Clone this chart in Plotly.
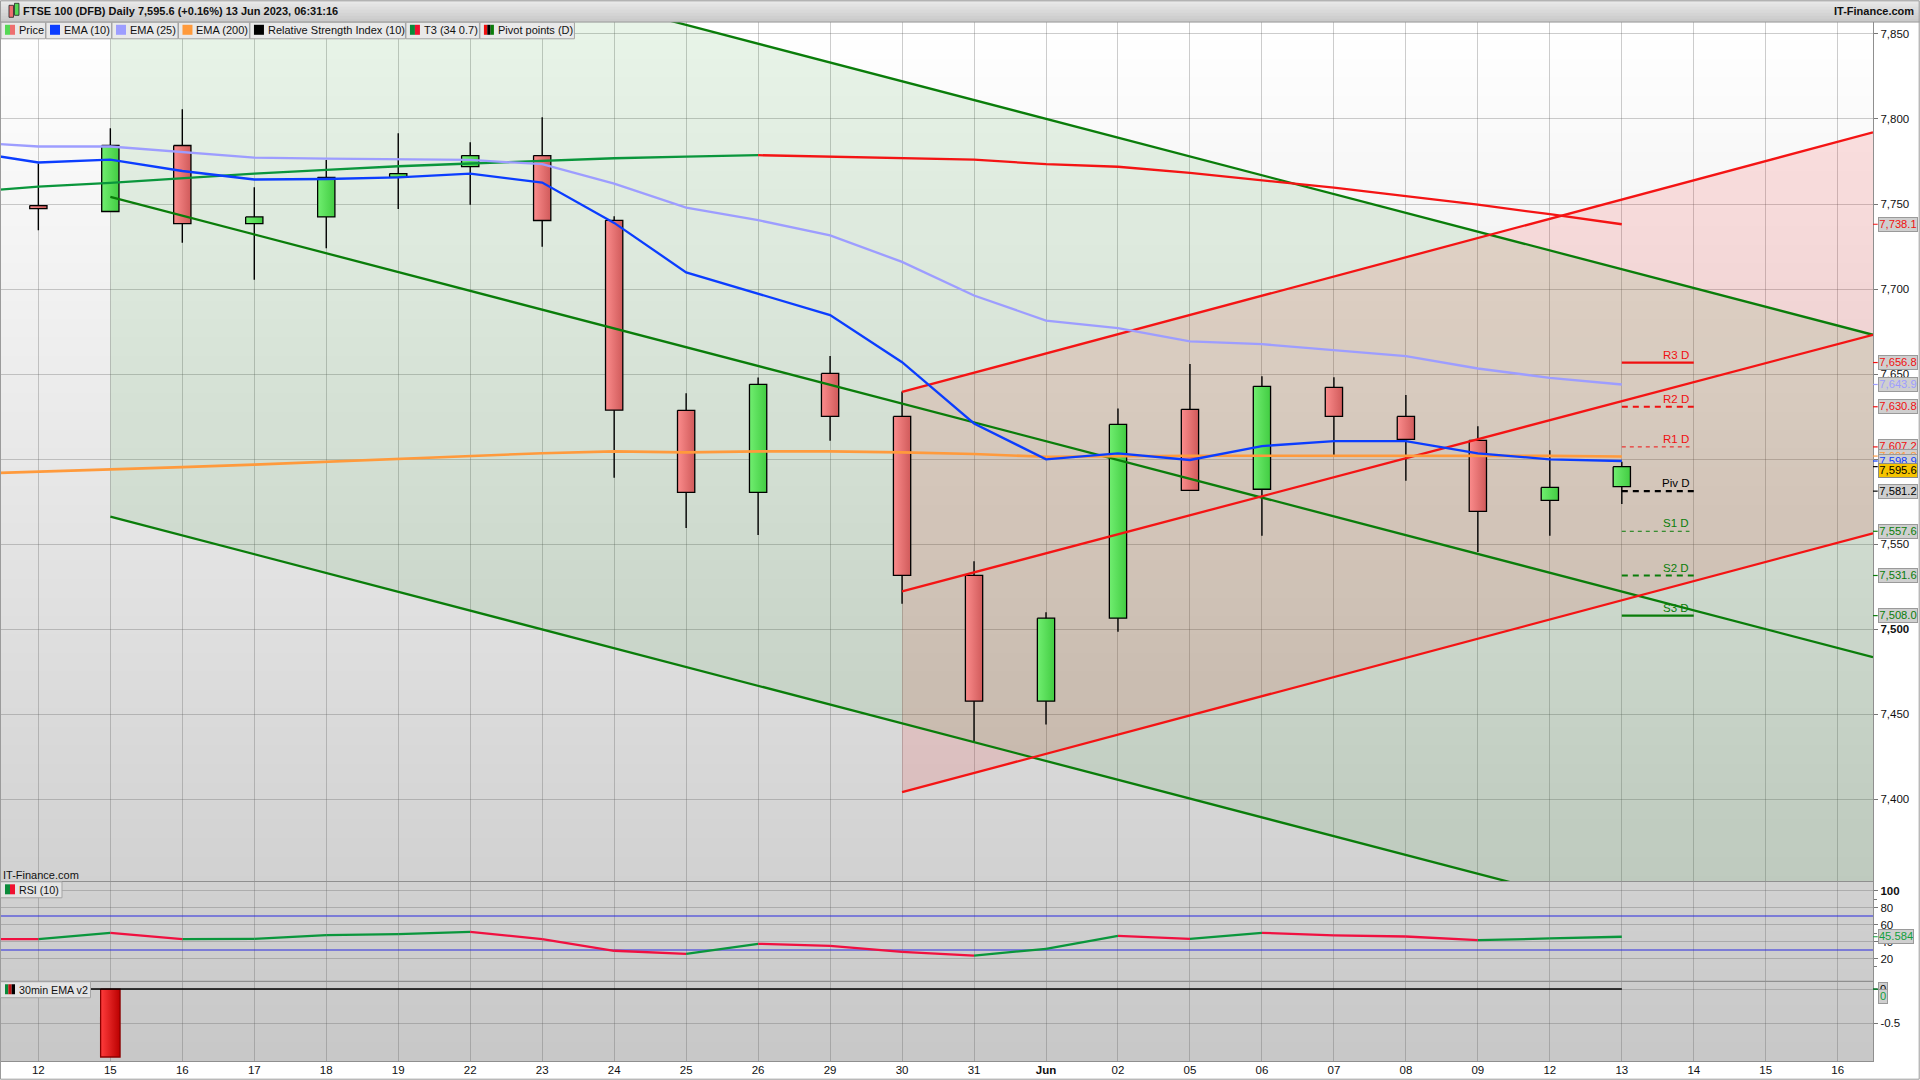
import plotly.graph_objects as go

# session labels on the x axis, one per slot
date_labels = ["12", "15", "16", "17", "18", "19", "22", "23", "24", "25", "26", "29", "30", "31",
               "<b>Jun</b>", "02", "05", "06", "07", "08", "09", "12", "13", "14", "15", "16"]

# daily candles
opens = [7749.1, 7745.6, 7784.4, 7738.5, 7742.4, 7765.6, 7772.0, 7778.5, 7740.4, 7628.7, 7580.5, 7650.4,
         7625.1, 7531.7, 7457.7, 7506.5, 7629.3, 7582.3, 7642.2, 7625.1, 7611.0, 7575.8, 7583.8]
closes = [7747.3, 7784.4, 7738.5, 7742.4, 7765.6, 7767.9, 7778.5, 7740.3, 7628.8, 7580.5, 7644.0, 7625.1,
          7531.7, 7457.7, 7506.5, 7620.4, 7581.7, 7642.8, 7625.1, 7611.6, 7569.3, 7583.4, 7595.6]
highs = [7773.8, 7794.5, 7805.7, 7759.9, 7775.9, 7791.6, 7786.3, 7801.0, 7742.8, 7638.8, 7648.0, 7660.6,
         7639.8, 7540.0, 7510.0, 7629.8, 7655.9, 7648.8, 7648.2, 7637.7, 7619.4, 7605.3, 7598.5]
lows = [7734.6, 7745.6, 7727.2, 7705.4, 7724.0, 7747.1, 7749.5, 7724.8, 7589.1, 7559.5, 7555.4, 7610.8,
        7515.0, 7433.4, 7444.0, 7498.6, 7581.7, 7555.0, 7601.4, 7587.3, 7545.4, 7555.0, 7573.6]

# indicator lines, first value is the session before the left edge
line_slots = list(range(-1, 23))
ema10 = [7781.0, 7774.4, 7776.1, 7769.4, 7764.4, 7764.7, 7765.6, 7767.9, 7762.6, 7738.9, 7709.8, 7697.4,
         7684.7, 7657.0, 7621.0, 7599.9, 7603.4, 7599.5, 7607.7, 7610.6, 7610.6, 7603.4, 7599.9, 7598.9]
ema25 = [7786.5, 7783.8, 7783.8, 7780.4, 7777.3, 7776.7, 7776.1, 7775.9, 7773.4, 7762.0, 7747.9, 7740.5,
         7731.5, 7716.0, 7696.2, 7681.5, 7677.0, 7669.2, 7667.6, 7664.1, 7660.6, 7653.3, 7647.8, 7643.9]
ema200 = [7591.3, 7592.5, 7593.8, 7595.3, 7596.8, 7598.5, 7600.3, 7602.0, 7603.5, 7604.6, 7604.0, 7604.6,
          7604.6, 7604.0, 7603.0, 7601.4, 7601.8, 7602.0, 7602.0, 7602.0, 7602.0, 7602.2, 7601.9, 7601.6]
t3_up_slots = list(range(-1, 11))
t3_up = [7756.9, 7760.2, 7762.4, 7765.1, 7767.9, 7770.1, 7772.2, 7773.8, 7775.3, 7776.9, 7777.9, 7778.7]
t3_down_slots = list(range(10, 23))
t3_down = [7778.7, 7777.9, 7777.3, 7776.1, 7773.4, 7771.9, 7768.3, 7764.0, 7759.6, 7754.6, 7749.6, 7744.0, 7738.1]

rsi = [43.0, 42.8, 50.2, 42.8, 43.0, 47.5, 48.7, 51.4, 42.8, 29.1, 25.5, 37.3,
       34.9, 27.9, 23.5, 31.4, 46.7, 43.2, 50.2, 47.3, 45.9, 41.5, 43.6, 45.584]
osc = [0, 0, -1.0, 0, 0, 0, 0, 0, 0, 0, 0, 0, 0, 0, 0, 0, 0, 0, 0, 0, 0, 0, 0, 0]

# regression channels: slots at both ends, then upper / middle / lower prices
green_channel_slots = [1, 25.49]
green_upper = [7943.7, 7673.1]
green_middle = [7754.2, 7483.6]
green_lower = [7566.2, 7295.6]
red_channel_slots = [12, 25.49]
red_upper = [7639.5, 7792.1]
red_middle = [7522.3, 7673.1]
red_lower = [7404.2, 7556.4]

# daily pivots
pivot_names = ["R3 D", "R2 D", "R1 D", "Piv D", "S1 D", "S2 D", "S3 D"]
pivot_values = [7656.8, 7630.8, 7607.2, 7581.2, 7557.6, 7531.6, 7508.0]
pivot_ends = [23, 23, 22.94, 23, 22.94, 23, 23]
pivot_colors = ["#f01010", "#f01010", "#f01010", "#000000", "#0a7d0a", "#0a7d0a", "#0a7d0a"]
pivot_dash = ["solid", "6px,5px", "4px,4px", "6px,5px", "4px,4px", "6px,5px", "solid"]
pivot_width = [2.2, 2.2, 1, 2.2, 1, 2.2, 2.2]

label_values = [7738.1, 7656.8, 7643.9, 7630.8, 7607.2, 7601.8, 7598.9, 7595.6, 7581.2, 7557.6, 7531.6, 7508.0]
label_colors = ["#f01010", "#f01010", "#9d9dff", "#f01010", "#f01010", "#ff9a3c", "#1040ff", "#000000",
                "#000000", "#0a7d0a", "#0a7d0a", "#0a7d0a"]

price_ticks = [7400, 7450, 7500, 7550, 7600, 7650, 7700, 7750, 7800, 7850]
price_tick_text = ["7,400", "7,450", "<b>7,500</b>", "7,550", "7,600", "7,650", "7,700", "7,750", "7,800", "7,850"]
rsi_ticks = [100, 80, 60, 40, 20]
rsi_tick_text = ["<b>100</b>", "80", "60", "40", "20"]

legend_names = ["Price", "EMA (10)", "EMA (25)", "EMA (200)", "Relative Strength Index (10)", "T3 (34 0.7)", "Pivot points (D)"]
legend_colors = [["#55d855", "#ee6f6f"], ["#0b3dff"], ["#9d9dff"], ["#ff9a3c"], ["#000000"],
                 ["#0a8a3a", "#f01030"], ["#f01010", "#000000", "#0a7d0a"]]

FONT = "Liberation Sans"
GREEN_LINE = "#0a7d0a"
RED_LINE = "#f41414"
PLOT_W = 1873.3
PLOT_TOP = 21.7
PLOT_BOTTOM = 1061.3
PLOT_H = PLOT_BOTTOM - PLOT_TOP
BODY_HALF = 0.12
LINE_W = 2.3


def px(x):
    return x / PLOT_W


def py(y):
    return (PLOT_BOTTOM - y) / PLOT_H


def paper_rect(x0, y0, x1, y1, fill, line=None, layer="above", width=1):
    return dict(type="rect", xref="paper", yref="paper", x0=px(x0), x1=px(x1), y0=py(y0), y1=py(y1),
                fillcolor=fill, layer=layer, line=dict(color=line or "rgba(0,0,0,0)", width=width if line else 0))


def text_note(x, y, text, size=11, color="#111111", anchor="left"):
    return dict(xref="paper", yref="paper", x=px(x), y=py(y), text=text, showarrow=False, xanchor=anchor,
                yanchor="middle", font=dict(family=FONT, size=size, color=color))


fig = go.Figure()


def add_line(slots, values, color, axis="y", width=LINE_W, dash="solid"):
    fig.add_trace(go.Scatter(x=slots, y=values, mode="lines", yaxis=axis, hoverinfo="skip",
                             line=dict(color=color, width=width, dash=dash)))


def add_box(slot, half, top, bottom, colors, edge, axis="y"):
    fig.add_trace(go.Scatter(x=[slot - half, slot + half, slot + half, slot - half, slot - half],
                             y=[top, top, bottom, bottom, top], mode="lines", fill="toself", yaxis=axis,
                             hoverinfo="skip", line=dict(color=edge, width=1.3),
                             fillgradient=dict(type="horizontal", colorscale=[[0, colors[0]], [1, colors[1]]])))


# channel fills, red goes under green
for slots, up, low, tint in [(red_channel_slots, red_upper, red_lower, "rgba(255,0,0,0.11)"),
                             (green_channel_slots, green_upper, green_lower, "rgba(0,128,0,0.09)")]:
    fig.add_trace(go.Scatter(x=[slots[0], slots[1], slots[1], slots[0]], y=[up[0], up[1], low[1], low[0]],
                             mode="none", fill="toself", fillcolor=tint, hoverinfo="skip"))

# wicks first so bodies cover them
wick_x, wick_y = [], []
for i in range(len(opens)):
    wick_x += [i, i, None]
    wick_y += [highs[i], lows[i], None]
add_line(wick_x, wick_y, "#000000", width=1.4)

for i in range(len(opens)):
    rising = closes[i] >= opens[i]
    shades = ("#70ee70", "#42cc42") if rising else ("#fb8c8c", "#d05a5a")
    add_box(i, BODY_HALF, max(opens[i], closes[i]), min(opens[i], closes[i]), shades, "#000000")

for vals in (green_upper, green_middle, green_lower):
    add_line(green_channel_slots, vals, GREEN_LINE)
for vals in (red_upper, red_middle, red_lower):
    add_line(red_channel_slots, vals, RED_LINE)

add_line(t3_up_slots, t3_up, "#0a963c")
add_line(t3_down_slots, t3_down, RED_LINE)
add_line(line_slots, ema200, "#ff9a3c", width=2.6)
add_line(line_slots, ema25, "#9d9dff")
add_line(line_slots, ema10, "#0b3dff")

for i, name in enumerate(pivot_names):
    add_line([22, pivot_ends[i]], [pivot_values[i], pivot_values[i]], pivot_colors[i], width=pivot_width[i], dash=pivot_dash[i])

# RSI, coloured by direction
add_line([-1, 26], [70, 70], "#2a2ae0", axis="y2", width=1.1)
add_line([-1, 26], [30, 30], "#2a2ae0", axis="y2", width=1.1)
rise_x, rise_y, fall_x, fall_y = [], [], [], []
for i in range(1, len(rsi)):
    pair_x, pair_y = [line_slots[i - 1], line_slots[i], None], [rsi[i - 1], rsi[i], None]
    if rsi[i] >= rsi[i - 1]:
        rise_x += pair_x
        rise_y += pair_y
    else:
        fall_x += pair_x
        fall_y += pair_y
add_line(rise_x, rise_y, "#0a963c", axis="y2")
add_line(fall_x, fall_y, "#f01040", axis="y2")

# 30 min EMA histogram
for slot, v in zip(line_slots, osc):
    if v != 0:
        add_box(slot, 0.135, 0, v, ("#ff3c3c", "#bb0000"), "#8a0000", axis="y3")
add_line(line_slots, [0] * len(line_slots), "#000000", axis="y3", width=1.5)

# page background, one long vertical fade behind all three panels
shapes = []
bands = 56
for b in range(bands):
    shade = round(255 - 55 * b / (bands - 1))
    y0 = PLOT_TOP + PLOT_H * b / bands
    y1 = PLOT_TOP + PLOT_H * (b + 1) / bands + 1
    shapes.append(paper_rect(0, y0, PLOT_W, min(y1, PLOT_BOTTOM), f"rgb({shade},{shade},{shade})", layer="below"))

for k in range(7):
    shade = 232 - k * 5
    shapes.append(paper_rect(0, k * 3, 1920, (k + 1) * 3 + 0.5, f"rgb({shade},{shade},{shade})"))

shapes.append(dict(type="line", xref="paper", yref="paper", x0=0, x1=px(1920), y0=py(21.7), y1=py(21.7),
                   line=dict(color="#8f8f8f", width=1.2)))
for sep in (881.7, 981.7):
    shapes.append(dict(type="line", xref="paper", yref="paper", x0=0, x1=1, y0=py(sep), y1=py(sep),
                       line=dict(color="#8f8f8f", width=1.2)))
shapes.append(paper_rect(0.5, 0.5, 1919.5, 1079.5, "rgba(0,0,0,0)", line="#9a9a9a", width=1))

annotations = []

# header
shapes.append(paper_rect(9, 5, 13.5, 17, "#ee6f6f", line="#222222", width=0.8))
shapes.append(paper_rect(14.5, 3, 19, 15, "#55d855", line="#222222", width=0.8))
annotations.append(text_note(21, 11, "<b>FTSE 100 (DFB) Daily 7,595.6 (+0.16%) 13 Jun 2023, 06:31:16</b>", size=11))
annotations.append(text_note(1916, 11, "<b>IT-Finance.com</b>", size=11, anchor="right"))

# legend strip
edges = [1, 46, 112, 178.5, 250, 406, 480, 575]
for i, name in enumerate(legend_names):
    x0, x1 = edges[i], edges[i + 1] - 0.5
    shapes.append(paper_rect(x0, 22, x1, 38.5, "#e9e9e9", line="#a4a4a4", width=1))
    tones = legend_colors[i]
    step = 10 / len(tones)
    for j, tone in enumerate(tones):
        shapes.append(paper_rect(x0 + 4 + j * step, 24.5, x0 + 4 + (j + 1) * step, 34.5, tone))
    annotations.append(text_note(x0 + 16, 30, name, size=11))

# panel tags
annotations.append(text_note(1, 875.5, "IT-Finance.com", size=11))
for x1, y0, name, tones in [(62, 882, "RSI (10)", ["#0a8a3a", "#f01030"]),
                            (90.5, 982, "30min EMA v2", ["#0a8a3a", "#c01010", "#000000"])]:
    shapes.append(paper_rect(0.5, y0, x1, y0 + 16, "#e4e4e4", line="#a4a4a4", width=1))
    step = 10 / len(tones)
    for j, tone in enumerate(tones):
        shapes.append(paper_rect(5 + j * step, y0 + 2.5, 5 + (j + 1) * step, y0 + 12.5, tone))
    annotations.append(text_note(17, y0 + 8, name, size=10.7))

# pivot names above their lines
for i, name in enumerate(pivot_names):
    annotations.append(dict(xref="x", yref="y", x=22.96, y=pivot_values[i], text=name, showarrow=False, xanchor="right",
                            yanchor="bottom", yshift=0, font=dict(family=FONT, size=11.5, color=pivot_colors[i])))


def value_label(value, axis, text, color, width=38, yshift=0, bg="#cfcfcf", edge="#9a9a9a", size=11.2):
    shapes.append(dict(type="line", xref="paper", yref=axis, x0=1, x1=px(1878), y0=value, y1=value,
                       line=dict(color=color, width=1.2)))
    annotations.append(dict(xref="paper", yref=axis, x=px(1878), y=value, xanchor="left", yanchor="middle",
                            text=text, showarrow=False, yshift=yshift, width=width, height=12.5, align="center",
                            bgcolor=bg, bordercolor=edge, borderwidth=1, borderpad=0,
                            font=dict(family=FONT, size=size, color=color)))


for value, color in zip(label_values, label_colors):
    if value == closes[-1]:
        value_label(value, "y", f"{value:,.1f}", color, yshift=-4, bg="#f6c400", edge="#8a8a8a")
    else:
        value_label(value, "y", f"{value:,.1f}", color)
value_label(rsi[-1], "y2", f"{rsi[-1]:.3f}", "#12a03c", width=34)
value_label(osc[-1], "y3", "0", "#000000", width=8)
value_label(osc[-1], "y3", "0", "#12a03c", width=8, yshift=-7.5)

axis_font = dict(family=FONT, size=11.5, color="#111111")
grid = "rgba(90,90,90,0.3)"
common = dict(side="right", anchor="x", showgrid=True, gridcolor=grid, gridwidth=1, zeroline=False, ticks="outside",
              ticklen=4, tickcolor="#777777", showline=True, linecolor="#8f8f8f", linewidth=1.2, tickfont=axis_font)

fig.update_layout(
    width=1920, height=1080, showlegend=False, hovermode=False,
    paper_bgcolor="#ffffff", plot_bgcolor="rgba(0,0,0,0)",
    margin=dict(l=0, r=1920 - PLOT_W, t=PLOT_TOP, b=1080 - PLOT_BOTTOM, pad=0),
    xaxis=dict(range=[-0.533, 25.49], tickvals=list(range(len(date_labels))), ticktext=date_labels, anchor="y3",
               showgrid=True, gridcolor=grid, zeroline=False, ticks="", tickfont=axis_font, showline=True,
               linecolor="#8f8f8f", linewidth=1.2, ticklabelstandoff=-2),
    yaxis=dict(domain=[py(881.7), 1], range=[7351.7, 7857], tickvals=price_ticks, ticktext=price_tick_text, **common),
    yaxis2=dict(domain=[py(981.7), py(881.7)], range=[-7, 110.6], tickvals=rsi_ticks, ticktext=rsi_tick_text,
                minor=dict(tickvals=[90, 50, 10], ticks="outside", ticklen=3, tickcolor="#777777", showgrid=False), **common),
    yaxis3=dict(domain=[0, py(981.7)], range=[-1.059, 0.112], tickvals=[0, -0.5], ticktext=["0", "-0.5"], **common),
    shapes=shapes, annotations=annotations,
)

fig.write_html("out.html", config={"displayModeBar": False}, post_script="document.body.style.margin='0';")
